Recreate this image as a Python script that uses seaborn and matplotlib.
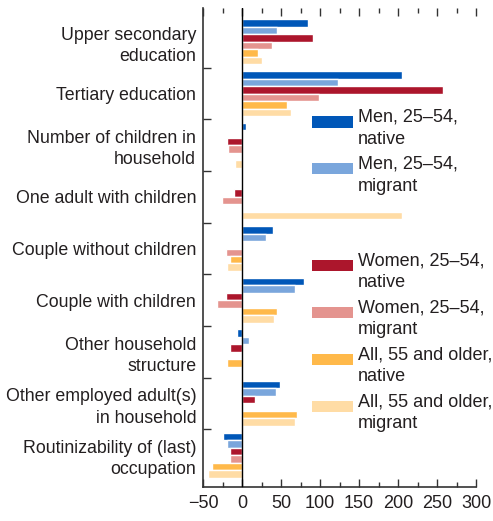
import numpy as np
import pandas as pd
import seaborn as sns
import matplotlib.pyplot as plt
from matplotlib.patches import Patch, Rectangle
from matplotlib.legend_handler import HandlerPatch
from matplotlib.ticker import MultipleLocator

categories = ["Upper secondary\neducation", "Tertiary education",
              "Number of children in\nhousehold", "One adult with children",
              "Couple without children", "Couple with children",
              "Other household\nstructure", "Other employed adult(s)\nin household",
              "Routinizability of (last)\noccupation"]
series = ["Men, 25\u201354,\nnative", "Men, 25\u201354,\nmigrant",
          "Women, 25\u201354,\nnative", "Women, 25\u201354,\nmigrant",
          "All, 55 and older,\nnative", "All, 55 and older,\nmigrant"]
men_native = [84, 205, 5.5, 0, 40, 79, -7, 49, -25]
men_migrant = [45, 123, 0, 0, 31, 68, 9, 43, -20]
women_native = [91, 257, -20, -11, 0, -21, -16, 17, -15]
women_migrant = [38, 99, -18, -26, -21, -32, -1, -1, -15]
old_native = [20, 58, 0, 0, -15, 45, -20, 70, -38]
old_migrant = [25, 63, -9, 205, -20, 41, 1, 68, -44]
colors = ["#0057b8", "#7aa6dc", "#ac162c", "#e4948f", "#ffb94a", "#ffdca5"]

values = [men_native, men_migrant, women_native, women_migrant, old_native, old_migrant]
df = pd.DataFrame([(c, s, v[i]) for s, v in zip(series, values)
                   for i, c in enumerate(categories)],
                  columns=["category", "series", "value"])

sns.set_style("ticks")
plt.rcParams['font.family'] = ['Liberation Sans', 'DejaVu Sans']
text_color = "#231f20"

fig = plt.figure(figsize=(4.93, 5.21), dpi=100)
ax = fig.add_axes([0.412, 0.065, 0.554, 0.920])

sns.barplot(data=df, y="category", x="value", hue="series", order=categories,
            hue_order=series, palette=colors, orient="h", width=0.87,
            saturation=1, dodge=True, ax=ax, legend=False)

ax.axvline(0, color="black", lw=1.0, zorder=5)
ax.set_xlim(-50, 300)
ax.set_ylim(8.62, -0.66)
ax.set_xlabel("")
ax.set_ylabel("")

ax.xaxis.set_major_locator(MultipleLocator(50))
ax.xaxis.set_minor_locator(MultipleLocator(25))
ax.tick_params(axis="x", which="both", direction="in", top=True, bottom=True,
               labelsize=13, colors="#333333", labelcolor=text_color, pad=6)
ax.tick_params(axis="x", which="major", length=6, width=1)
ax.tick_params(axis="x", which="minor", length=3.5, width=1)

ax.set_yticks(range(len(categories)))
ax.set_yticklabels(categories)
ax.set_yticks(np.arange(0.5, len(categories) - 1, 1), minor=True)
ax.tick_params(axis="y", which="major", length=0, labelsize=12.8,
               labelcolor=text_color, pad=5)
ax.tick_params(axis="y", which="minor", direction="in", length=6, width=1,
               color="#333333")
for lab in ax.get_yticklabels():
    lab.set_linespacing(1.32)

for side in ["top", "right"]:
    ax.spines[side].set_visible(False)
for side in ["left", "bottom"]:
    ax.spines[side].set_color("#333333")
    ax.spines[side].set_linewidth(1.2)


# legend swatch sits level with the first text line
def top_patch(legend, orig_handle, xdescent, ydescent, width, height, fontsize):
    h = 0.62 * fontsize
    return Rectangle((-xdescent, -ydescent + height - h - 0.2 * fontsize), width, h)


handles = [Patch(facecolor=c, edgecolor="none") for c in colors]
leg_kw = dict(frameon=False, fontsize=13, handlelength=2.25, handleheight=2.4,
              handletextpad=0.3, labelspacing=0.43, borderpad=0, borderaxespad=0,
              labelcolor=text_color,
              handler_map={Patch: HandlerPatch(patch_func=top_patch)})
leg1 = ax.legend(handles[:2], series[:2], loc="upper left",
                 bbox_to_anchor=(0.399, 0.79), **leg_kw)
ax.add_artist(leg1)
leg2 = ax.legend(handles[2:], series[2:], loc="upper left",
                 bbox_to_anchor=(0.399, 0.49), **leg_kw)
for leg in (leg1, leg2):
    for t in leg.get_texts():
        t.set_linespacing(1.4)

fig.savefig("out.png", dpi=100)
